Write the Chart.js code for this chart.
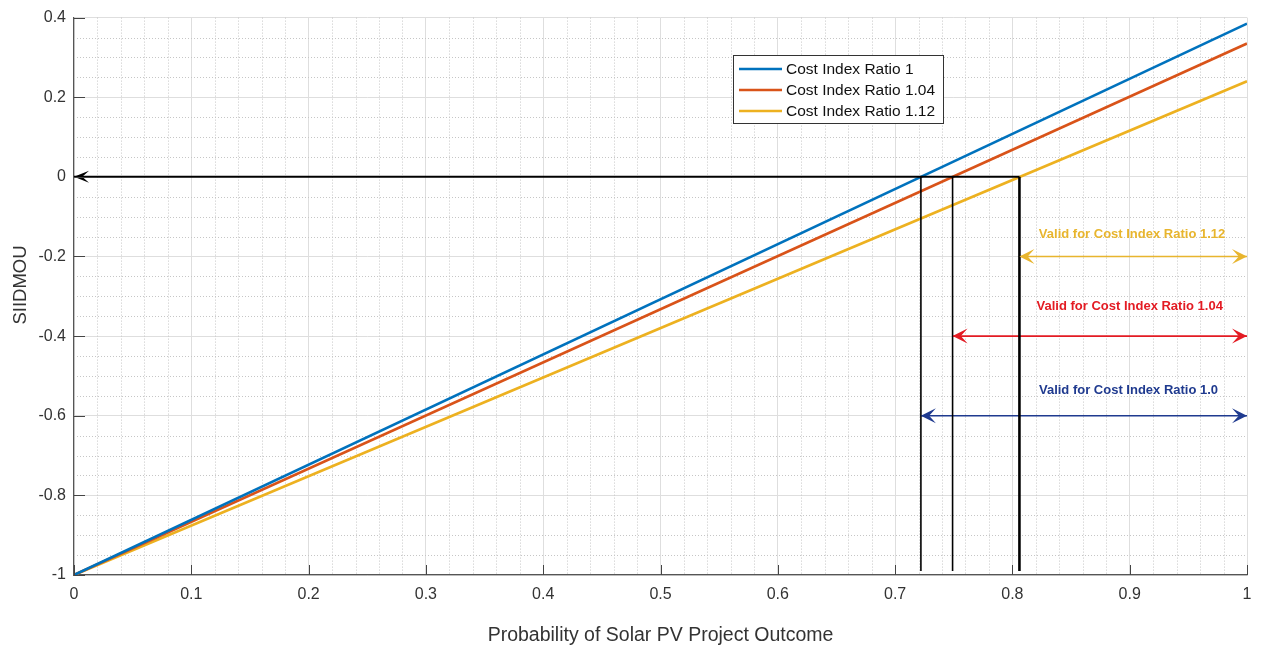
<!DOCTYPE html>
<html>
<head>
<meta charset="utf-8">
<script src="https://cdn.jsdelivr.net/npm/chart.js@4"></script>
<style>
  html, body { margin: 0; padding: 0; background: #ffffff; }
  #wrap { width: 1262px; height: 650px; }
</style>
</head>
<body>
<div id="wrap"><canvas id="c"></canvas></div>
<script>
// Probability of outcome (x) and SIIDMOU (y) for each cost index ratio
const probability = [0, 1];
const seriesNames = ['Cost Index Ratio 1', 'Cost Index Ratio 1.04', 'Cost Index Ratio 1.12'];
const siidmouRatio100 = [-1, 0.385];
const siidmouRatio104 = [-1, 0.335];
const siidmouRatio112 = [-1, 0.24];
const seriesColors = ['#0072BD', '#D95319', '#EDB120'];

// Break-even probability (SIIDMOU = 0) for each ratio
const breakEven = [0.722, 0.749, 0.806];

// "Valid for" ranges: arrow level, label and label level
const validLabels = ['Valid for Cost Index Ratio 1.0', 'Valid for Cost Index Ratio 1.04', 'Valid for Cost Index Ratio 1.12'];
const validLevels = [-0.6, -0.4, -0.2];
const validLabelLevels = [-0.5375, -0.325, -0.145];
const validLabelX = [0.899, 0.9, 0.902];
const validColors = ['#1F3A8F', '#E31B23', '#E8B52E'];

// Axis ticks
const xTicks = [0, 0.1, 0.2, 0.3, 0.4, 0.5, 0.6, 0.7, 0.8, 0.9, 1];
const yTicks = [-1, -0.8, -0.6, -0.4, -0.2, 0, 0.2, 0.4];
const xMinorStep = 0.02;
const yMinorStep = 0.05;

const FONT = '"Liberation Sans", Arial, Helvetica, sans-serif';

function pts(xs, ys) { return xs.map((x, i) => ({ x: x, y: ys[i] })); }

const seriesValues = [siidmouRatio100, siidmouRatio104, siidmouRatio112];
const datasets = [];
seriesValues.forEach((vals, i) => {
  datasets.push({
    label: seriesNames[i], data: pts(probability, vals),
    borderColor: seriesColors[i], backgroundColor: seriesColors[i],
    borderWidth: 2.6, pointRadius: 0, showLine: true, order: 2
  });
});
// Vertical drop lines at each break-even probability
const dropWidths = [1.6, 1.6, 2.6];
breakEven.forEach((b, i) => {
  datasets.push({
    label: 'drop' + i, data: [{ x: b, y: 0 }, { x: b, y: -0.99 }],
    borderColor: '#000', borderWidth: dropWidths[i], pointRadius: 0, showLine: true, order: 1
  });
});
// Horizontal arrow along SIIDMOU = 0 back to the axis
datasets.push({
  label: 'zeroArrow', data: [{ x: breakEven[2], y: 0 }, { x: 0, y: 0 }],
  borderColor: '#000', borderWidth: 2, pointRadius: 0, showLine: true, order: 1,
  arrowEnd: { len: 15, half: 6 }
});
// Double-headed range arrows
breakEven.forEach((b, i) => {
  datasets.push({
    label: 'valid' + i, data: [{ x: b, y: validLevels[i] }, { x: 1, y: validLevels[i] }],
    borderColor: validColors[i], borderWidth: 1.6, pointRadius: 0, showLine: true, order: 1,
    arrowStart: { len: 15, half: 7.5 }, arrowEnd: { len: 15, half: 7.5 },
    labelText: validLabels[i], labelX: validLabelX[i], labelY: validLabelLevels[i]
  });
});

function arrowHead(ctx, tip, from, len, half, color) {
  const dx = tip.x - from.x, dy = tip.y - from.y;
  const d = Math.hypot(dx, dy) || 1;
  const ux = dx / d, uy = dy / d, nx = -uy, ny = ux;
  const bx = tip.x - ux * len, by = tip.y - uy * len;
  const mx = tip.x - ux * len * 0.55, my = tip.y - uy * len * 0.55;
  ctx.save();
  ctx.fillStyle = color;
  ctx.beginPath();
  ctx.moveTo(tip.x, tip.y);
  ctx.lineTo(bx + nx * half, by + ny * half);
  ctx.lineTo(mx, my);
  ctx.lineTo(bx - nx * half, by - ny * half);
  ctx.closePath();
  ctx.fill();
  ctx.restore();
}

const decorations = {
  id: 'decorations',
  beforeDatasetsDraw(chart) {
    const { ctx, chartArea: a, scales: { x, y } } = chart;
    ctx.save();
    ctx.strokeStyle = '#c6c6c6';
    ctx.lineWidth = 1;
    ctx.setLineDash([1, 2]);
    const isMajor = (v, list) => list.some(t => Math.abs(t - v) < 1e-6);
    for (let k = 0; k <= 50; k++) {
      const v = k * xMinorStep;
      if (isMajor(v, xTicks)) continue;
      const px = Math.round(x.getPixelForValue(v)) + 0.5;
      ctx.beginPath(); ctx.moveTo(px, a.top); ctx.lineTo(px, a.bottom); ctx.stroke();
    }
    for (let k = 0; k <= 28; k++) {
      const v = -1 + k * yMinorStep;
      if (isMajor(v, yTicks)) continue;
      const py = Math.round(y.getPixelForValue(v)) + 0.5;
      ctx.beginPath(); ctx.moveTo(a.left, py); ctx.lineTo(a.right, py); ctx.stroke();
    }
    ctx.restore();
  },
  afterDatasetsDraw(chart) {
    const { ctx, chartArea: a, scales: { x, y } } = chart;
    // arrowheads and range labels
    chart.data.datasets.forEach((ds, i) => {
      const meta = chart.getDatasetMeta(i);
      if (!meta.data.length) return;
      const p0 = { x: meta.data[0].x, y: meta.data[0].y };
      const p1 = { x: meta.data[meta.data.length - 1].x, y: meta.data[meta.data.length - 1].y };
      if (ds.arrowEnd) arrowHead(ctx, p1, p0, ds.arrowEnd.len, ds.arrowEnd.half, ds.borderColor);
      if (ds.arrowStart) arrowHead(ctx, p0, p1, ds.arrowStart.len, ds.arrowStart.half, ds.borderColor);
      if (ds.labelText) {
        ctx.save();
        ctx.font = 'bold 13px ' + FONT;
        ctx.fillStyle = ds.borderColor;
        ctx.textAlign = 'center';
        ctx.textBaseline = 'middle';
        ctx.fillText(ds.labelText, x.getPixelForValue(ds.labelX), y.getPixelForValue(ds.labelY));
        ctx.restore();
      }
    });
    // inward tick marks
    ctx.save();
    ctx.strokeStyle = '#444';
    ctx.lineWidth = 1;
    xTicks.forEach(v => {
      const px = Math.round(x.getPixelForValue(v)) + 0.5;
      ctx.beginPath(); ctx.moveTo(px, a.bottom); ctx.lineTo(px, a.bottom - 10); ctx.stroke();
    });
    yTicks.forEach(v => {
      const py = Math.round(y.getPixelForValue(v)) + 0.5;
      ctx.beginPath(); ctx.moveTo(a.left, py); ctx.lineTo(a.left + 11, py); ctx.stroke();
    });
    ctx.restore();
  },
  afterDraw(chart) {
    const { ctx, chartArea: a } = chart;
    // axis titles
    ctx.save();
    ctx.fillStyle = '#333';
    ctx.font = '19.5px ' + FONT;
    ctx.textAlign = 'center';
    ctx.textBaseline = 'middle';
    ctx.fillText('Probability of Solar PV Project Outcome', (a.left + a.right) / 2, 636);
    ctx.font = '18.5px ' + FONT;
    ctx.translate(21, 285);
    ctx.rotate(-Math.PI / 2);
    ctx.fillText('SIIDMOU', 0, 0);
    ctx.restore();
    // legend box
    const lx = 733, ly = 55, lw = 210, lh = 68;
    ctx.save();
    ctx.fillStyle = '#fff';
    ctx.fillRect(lx, ly, lw, lh);
    ctx.strokeStyle = '#333';
    ctx.lineWidth = 1;
    ctx.strokeRect(lx + 0.5, ly + 0.5, lw, lh);
    ctx.font = '15.5px ' + FONT;
    ctx.textBaseline = 'middle';
    ctx.fillStyle = '#111';
    seriesNames.forEach((n, i) => {
      const ry = ly + 14 + i * 21;
      ctx.strokeStyle = seriesColors[i];
      ctx.lineWidth = 2.6;
      ctx.beginPath(); ctx.moveTo(lx + 6, ry); ctx.lineTo(lx + 49, ry); ctx.stroke();
      ctx.fillText(n, lx + 53, ry + 1);
    });
    ctx.restore();
  }
};

const fmt = v => String(Number(v.toFixed(2)));

new Chart(document.getElementById('c'), {
  type: 'scatter',
  data: { datasets: datasets },
  options: {
    responsive: true,
    maintainAspectRatio: false,
    animation: false,
    layout: { padding: { top: 15, right: 15, left: 0, bottom: 0 } },
    plugins: { legend: { display: false }, tooltip: { enabled: false } },
    scales: {
      x: {
        type: 'linear', min: 0, max: 1,
        afterBuildTicks: s => { s.ticks = xTicks.map(v => ({ value: v })); },
        afterFit: s => { s.height = 75; },
        ticks: { callback: fmt, color: '#333', font: { family: FONT, size: 16 }, padding: 10, maxRotation: 0, autoSkip: false },
        grid: { color: '#dedede', lineWidth: 1, drawTicks: false },
        border: { display: true, color: '#555', width: 1.2 }
      },
      y: {
        type: 'linear', min: -1, max: 0.4,
        afterBuildTicks: s => { s.ticks = yTicks.map(v => ({ value: v })); },
        afterFit: s => { s.width = 74; },
        ticks: { callback: fmt, color: '#333', font: { family: FONT, size: 16 }, padding: 8, autoSkip: false },
        grid: { color: '#dedede', lineWidth: 1, drawTicks: false },
        border: { display: true, color: '#555', width: 1.2 }
      }
    }
  },
  plugins: [decorations]
});
</script>
</body>
</html>
